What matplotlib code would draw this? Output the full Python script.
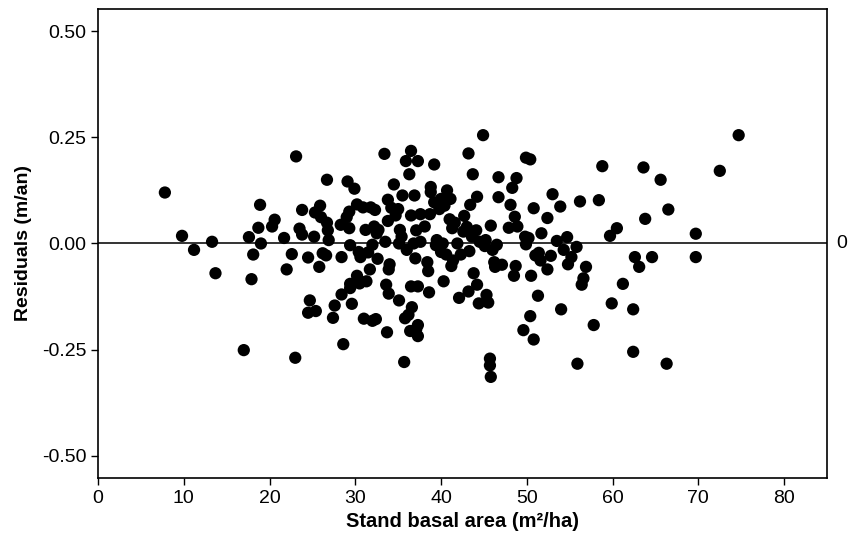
import matplotlib
matplotlib.use("Agg")
import matplotlib.pyplot as plt

# stand basal area (m2/ha) and residuals (m/an)
basal_area = [
    7.8, 9.8, 11.2, 13.3, 13.7, 17.0, 17.6, 17.9, 18.1, 18.7,
    18.9, 19.0, 20.3, 20.6, 21.7, 22.0, 22.6, 23.1, 23.0, 23.5,
    23.8, 23.8, 24.5, 24.7, 24.5, 25.3, 25.2, 25.4, 25.8, 25.9,
    26.0, 26.2, 26.7, 26.6, 26.7, 26.8, 26.9, 27.4, 27.6, 28.3,
    28.4, 28.4, 28.6, 29.0, 29.1, 29.3, 29.3, 29.4, 29.4, 29.4,
    29.6, 29.9, 30.2, 30.2, 30.4, 30.5, 30.6, 30.9, 31.0, 31.2,
    31.3, 31.5, 31.7, 31.8, 32.0, 32.0, 32.2, 32.3, 32.4, 32.5,
    32.6, 32.7, 33.4, 33.5, 33.6, 33.7, 33.8, 33.8, 33.9, 33.9,
    34.0, 34.2, 34.5, 34.7, 35.0, 35.1, 35.1, 35.2, 35.4, 35.5,
    35.7, 35.8, 35.9, 36.0, 36.2, 36.3, 36.4, 36.5, 36.5, 36.5,
    36.6, 36.8, 36.9, 37.0, 37.1, 37.1, 37.3, 37.3, 37.3, 37.3,
    37.6, 37.6, 38.1, 38.4, 38.5, 38.6, 38.7, 38.8, 38.8, 39.2,
    39.2, 39.4, 39.5, 39.8, 40.0, 40.0, 40.2, 40.3, 40.4, 40.6,
    40.7, 41.0, 41.1, 41.2, 41.3, 41.4, 41.6, 41.9, 42.1, 42.3,
    42.6, 42.7, 43.0, 43.2, 43.2, 43.3, 43.4, 43.6, 43.7, 43.8,
    44.1, 44.2, 44.2, 44.4, 44.5, 44.9, 45.1, 45.2, 45.3, 45.5,
    45.7, 45.7, 45.8, 45.8, 46.0, 46.2, 46.3, 46.5, 46.7, 46.7,
    47.1, 47.9, 48.1, 48.3, 48.5, 48.6, 48.7, 48.8, 48.9, 49.6,
    49.8, 49.9, 49.9, 50.2, 50.4, 50.4, 50.5, 50.8, 50.8, 51.0,
    51.3, 51.4, 51.6, 51.7, 52.4, 52.4, 52.8, 53.0, 53.5, 53.9,
    54.0, 54.3, 54.7, 54.8, 55.2, 55.8, 55.9, 56.2, 56.4, 56.6,
    56.9, 57.8, 58.4, 58.8, 59.7, 59.9, 60.5, 61.2, 62.4, 62.4,
    62.6, 63.1, 63.6, 63.8, 64.6, 65.6, 66.3, 66.5, 69.7, 69.7,
    72.5, 74.7,
]
residuals = [
    0.120, 0.018, -0.015, 0.004, -0.070, -0.251, 0.015, -0.084, -0.026, 0.037,
    0.091, 0.000, 0.040, 0.056, 0.013, -0.061, -0.025, 0.205, -0.269, 0.035,
    0.079, 0.021, -0.033, -0.134, -0.163, 0.073, 0.016, -0.159, -0.055, 0.089,
    0.062, -0.023, 0.150, -0.028, 0.049, 0.031, 0.008, -0.175, -0.146, 0.044,
    -0.032, -0.120, -0.237, 0.062, 0.146, 0.075, 0.036, -0.004, -0.095, -0.105,
    -0.142, 0.129, 0.092, -0.076, -0.020, -0.094, -0.032, 0.085, -0.177, 0.032,
    -0.089, -0.021, -0.061, 0.085, -0.182, -0.003, 0.040, 0.079, -0.178, 0.024,
    -0.036, 0.032, 0.211, 0.004, -0.097, -0.209, 0.103, 0.053, -0.061, -0.118,
    -0.049, 0.084, 0.139, 0.066, 0.081, -0.134, 0.000, 0.032, 0.016, 0.113,
    -0.279, -0.176, 0.194, -0.015, -0.168, 0.163, -0.206, 0.218, 0.066, -0.101,
    -0.150, 0.000, 0.113, -0.035, 0.031, -0.202, 0.194, -0.101, -0.192, -0.218,
    0.069, 0.004, 0.040, -0.044, -0.065, -0.115, 0.069, 0.133, 0.121, 0.186,
    0.097, -0.004, 0.008, 0.081, -0.020, 0.105, 0.000, -0.089, 0.089, -0.026,
    0.125, 0.057, 0.105, -0.053, 0.036, -0.040, 0.049, 0.000, -0.128, -0.026,
    0.028, 0.065, 0.039, 0.212, -0.113, -0.018, 0.091, 0.016, 0.163, -0.070,
    0.031, 0.110, -0.097, -0.141, 0.004, 0.255, -0.006, 0.008, -0.121, -0.139,
    -0.271, -0.287, -0.314, 0.042, -0.015, -0.044, -0.055, -0.003, 0.156, 0.109,
    -0.050, 0.037, 0.091, 0.131, -0.076, 0.063, -0.053, 0.154, 0.040, -0.204,
    0.016, 0.202, -0.002, 0.013, 0.198, -0.171, -0.076, 0.083, -0.226, -0.028,
    -0.123, -0.022, -0.040, 0.024, 0.060, -0.061, -0.029, 0.116, 0.006, 0.087,
    -0.155, -0.015, 0.015, -0.049, -0.032, -0.008, -0.283, 0.099, -0.097, -0.082,
    -0.055, -0.192, 0.102, 0.182, 0.018, -0.141, 0.036, -0.095, -0.155, -0.255,
    -0.032, -0.055, 0.179, 0.058, -0.032, 0.150, -0.283, 0.080, 0.023, -0.032,
    0.171, 0.255,
]

x_ticks = [0, 10, 20, 30, 40, 50, 60, 70, 80]
y_ticks = [-0.50, -0.25, 0.00, 0.25, 0.50]

plt.rcParams['font.family'] = ['Liberation Sans', 'DejaVu Sans']

fig = plt.figure(figsize=(8.49, 5.39), dpi=100)
ax = fig.add_axes([0.1154, 0.1132, 0.8587, 0.8701])

ax.axhline(0, color='#333333', lw=1.4, zorder=1)
ax.scatter(basal_area, residuals, s=78, color='black', edgecolors='none', zorder=2)

ax.set_xlim(0, 85)
ax.set_ylim(-0.552, 0.552)
ax.set_xticks(x_ticks)
ax.set_yticks(y_ticks)
ax.set_yticklabels(['%.2f' % v for v in y_ticks])
ax.tick_params(direction='out', length=5, width=1, labelsize=14, colors='black')
for sp in ax.spines.values():
    sp.set_linewidth(1.2)

ax.set_xlabel('Stand basal area (m²/ha)', fontsize=14.5, fontweight='bold', labelpad=4)
ax.set_ylabel('Residuals (m/an)', fontsize=14, fontweight='bold', labelpad=7)

# label of the reference line, outside the frame on the right
ax.text(1.013, 0, '0', transform=ax.get_yaxis_transform(), fontsize=14,
        va='center', ha='left')

fig.savefig('out.png', dpi=100)
